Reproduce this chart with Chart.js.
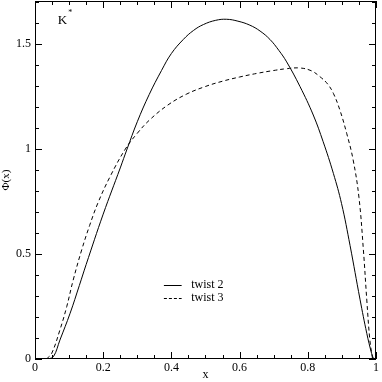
<!DOCTYPE html>
<html>
<head>
<meta charset="utf-8">
<script src="https://cdn.jsdelivr.net/npm/chart.js@4"></script>
<style>
  html, body { margin: 0; padding: 0; background: #fff; }
  #wrap { width: 382px; height: 382px; }
</style>
</head>
<body>
<div id="wrap"><canvas id="phiChart"></canvas></div>
<script>
// values
const twist2X = [0.038, 0.054, 0.073, 0.103, 0.13, 0.15, 0.20, 0.25, 0.27, 0.30, 0.335, 0.371, 0.40, 0.435, 0.465, 0.494, 0.53, 0.562, 0.595, 0.63, 0.66, 0.689, 0.715, 0.738, 0.777, 0.816, 0.845, 0.875, 0.899, 0.924, 0.953, 0.973, 0.987, 0.993];
const twist2Y = [0.00, 0.011, 0.09, 0.218, 0.35, 0.45, 0.69, 0.91, 1.00, 1.13, 1.26, 1.374, 1.455, 1.522, 1.565, 1.593, 1.613, 1.618, 1.609, 1.59, 1.562, 1.522, 1.47, 1.415, 1.298, 1.162, 1.035, 0.884, 0.74, 0.54, 0.285, 0.122, 0.027, 0.00];

const twist3X = [0.034, 0.049, 0.073, 0.093, 0.112, 0.137, 0.16, 0.185, 0.22, 0.265, 0.30, 0.337, 0.39, 0.445, 0.50, 0.55, 0.60, 0.65, 0.70, 0.74, 0.777, 0.81, 0.836, 0.858, 0.875, 0.894, 0.914, 0.933, 0.95, 0.963, 0.973, 0.982, 0.99];
const twist3Y = [0.00, 0.027, 0.138, 0.249, 0.376, 0.52, 0.635, 0.745, 0.868, 1.00, 1.075, 1.14, 1.21, 1.262, 1.298, 1.323, 1.343, 1.36, 1.374, 1.383, 1.386, 1.373, 1.344, 1.31, 1.265, 1.186, 1.075, 0.948, 0.77, 0.52, 0.281, 0.09, 0.00];

const xTicks = [0, 0.2, 0.4, 0.6, 0.8, 1];
const yTicks = [0, 0.5, 1, 1.5];
const xMinorStep = 0.05;
const yMinorStep = 0.1;

const seriesNames = ['twist 2', 'twist 3'];
const panelLabel = 'K';

const serif = '"Liberation Serif", "DejaVu Serif", serif';

function toPoints(xs, ys) {
    return xs.map((x, i) => ({ x: x, y: ys[i] }));
}

// frame, inward ticks on all four sides, legend and panel label
const framePlugin = {
    id: 'frame',
    afterDraw(chart) {
        const ctx = chart.ctx;
        const a = chart.chartArea;
        const xs = chart.scales.x;
        const ys = chart.scales.y;
        ctx.save();
        ctx.strokeStyle = '#000';
        ctx.lineWidth = 1;
        ctx.strokeRect(a.left + 0.5, a.top + 0.5, a.right - a.left - 1, a.bottom - a.top - 1);

        ctx.beginPath();
        for (let v = 0; v <= 1.0001; v += xMinorStep) {
            const major = xTicks.some(t => Math.abs(t - v) < 1e-6);
            const len = major ? 7 : 4;
            const px = Math.round(xs.getPixelForValue(v)) + 0.5;
            ctx.moveTo(px, a.bottom);
            ctx.lineTo(px, a.bottom - len);
            ctx.moveTo(px, a.top);
            ctx.lineTo(px, a.top + len);
        }
        for (let v = 0; v <= ys.max + 1e-6; v += yMinorStep) {
            const major = yTicks.some(t => Math.abs(t - v) < 1e-6);
            const len = major ? 7 : 4;
            const py = Math.round(ys.getPixelForValue(v)) + 0.5;
            ctx.moveTo(a.left, py);
            ctx.lineTo(a.left + len, py);
            ctx.moveTo(a.right, py);
            ctx.lineTo(a.right - len, py);
        }
        ctx.stroke();

        // legend
        const lx0 = xs.getPixelForValue(0.378);
        const lx1 = xs.getPixelForValue(0.43);
        const tx = xs.getPixelForValue(0.458);
        const rows = [ys.getPixelForValue(0.352), ys.getPixelForValue(0.29)];
        ctx.font = '12px ' + serif;
        ctx.fillStyle = '#000';
        ctx.textBaseline = 'middle';
        rows.forEach((ry, i) => {
            ctx.beginPath();
            ctx.setLineDash(i === 0 ? [] : [3, 2]);
            ctx.moveTo(lx0, Math.round(ry) + 0.5);
            ctx.lineTo(lx1, Math.round(ry) + 0.5);
            ctx.stroke();
            ctx.fillText(seriesNames[i], tx, ry);
        });
        ctx.setLineDash([]);

        // panel label K*
        ctx.font = '13px ' + serif;
        const kx = xs.getPixelForValue(0.067);
        const ky = ys.getPixelForValue(1.614);
        ctx.fillText(panelLabel, kx, ky);
        const kw = ctx.measureText(panelLabel).width;
        ctx.font = '8px ' + serif;
        ctx.fillText('*', kx + kw + 1, ky - 7);
        ctx.restore();
    }
};

const ctx = document.getElementById('phiChart').getContext('2d');
new Chart(ctx, {
    type: 'line',
    data: {
        datasets: [{
            label: seriesNames[0],
            data: toPoints(twist2X, twist2Y),
            borderColor: '#000',
            borderWidth: 1,
            pointRadius: 0,
            tension: 0.4,
            fill: false
        }, {
            label: seriesNames[1],
            data: toPoints(twist3X, twist3Y),
            borderColor: '#000',
            borderWidth: 1,
            borderDash: [4, 3],
            pointRadius: 0,
            tension: 0.4,
            fill: false
        }]
    },
    options: {
        responsive: true,
        maintainAspectRatio: false,
        animation: false,
        layout: { padding: { left: 0, right: 6, top: 1, bottom: 0 } },
        plugins: {
            legend: { display: false },
            tooltip: { enabled: false }
        },
        scales: {
            x: {
                type: 'linear',
                min: 0,
                max: 1,
                grid: { display: false, drawTicks: false },
                border: { display: false },
                afterBuildTicks: s => { s.ticks = xTicks.map(v => ({ value: v })); },
                afterFit: s => { s.height = 23; s.paddingLeft = 0; s.paddingRight = 0; },
                ticks: {
                    color: '#000',
                    padding: 2,
                    maxRotation: 0,
                    font: { family: serif, size: 12 },
                    callback: v => String(v)
                },
                title: {
                    display: true,
                    text: 'x',
                    color: '#000',
                    padding: { top: 0, bottom: 0 },
                    font: { family: serif, size: 12 }
                }
            },
            y: {
                type: 'linear',
                min: 0,
                max: 1.705,
                grid: { display: false, drawTicks: false },
                border: { display: false },
                afterBuildTicks: s => { s.ticks = yTicks.map(v => ({ value: v })); },
                afterFit: s => { s.width = 35; s.paddingTop = 0; s.paddingBottom = 0; },
                ticks: {
                    color: '#000',
                    padding: 4,
                    font: { family: serif, size: 12 },
                    callback: v => String(v)
                },
                title: {
                    display: true,
                    text: 'Φ(x)',
                    color: '#000',
                    padding: { top: 0, bottom: 0 },
                    font: { family: serif, size: 11 }
                }
            }
        }
    },
    plugins: [framePlugin]
});
</script>
</body>
</html>
